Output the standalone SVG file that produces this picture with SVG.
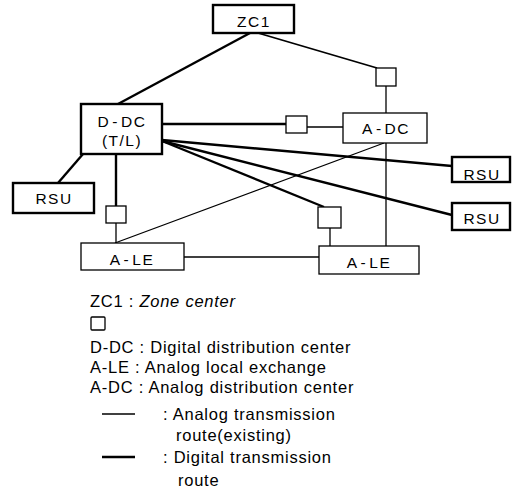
<svg xmlns="http://www.w3.org/2000/svg" width="524" height="491" viewBox="0 0 524 491">
<style>
.thick{fill:#fff;stroke:#000;stroke-width:2.4}
.thin{fill:#fff;stroke:#000;stroke-width:1.3}
.lt{fill:none;stroke:#000;stroke-width:1.3}
.lk{fill:none;stroke:#000;stroke-width:2.4}
text{font-family:"Liberation Sans",Arial,sans-serif;fill:#000}
.nl{font-size:15.5px;text-anchor:middle;letter-spacing:1.5px}
.lg{font-size:16.5px;letter-spacing:0.75px}
</style>
<rect width="524" height="491" fill="#fff"/>
<g id="connectors">
<line class="lk" x1="250" y1="33" x2="118" y2="104"/>
<line class="lt" x1="258" y1="33" x2="377" y2="68" style="stroke-width:1.8"/>
<line class="lt" x1="386" y1="86" x2="386" y2="113"/>
<line class="lk" x1="162" y1="124" x2="286" y2="124"/>
<line class="lt" x1="307" y1="127" x2="343" y2="127"/>
<line class="lk" x1="83" y1="154" x2="58" y2="183"/>
<line class="lk" x1="116" y1="154" x2="116" y2="206"/>
<line class="lt" x1="116" y1="223" x2="116" y2="243"/>
<line class="lk" x1="162" y1="140" x2="452" y2="166"/>
<line class="lk" x1="162" y1="141" x2="452" y2="215"/>
<line class="lk" x1="162" y1="141" x2="324" y2="207"/>
<line class="lt" x1="330" y1="228" x2="330" y2="246"/>
<line class="lt" x1="384" y1="143" x2="115" y2="243"/>
<line class="lt" x1="386" y1="143" x2="386" y2="246"/>
<line class="lt" x1="184" y1="257" x2="319" y2="257"/>
</g>
<g id="zc1"><rect class="thick" x="213" y="5" width="81" height="28"/><text class="nl" x="254" y="27">ZC1</text></g>
<g id="box-top"><rect class="thin" x="376" y="68" width="20" height="18"/></g>
<g id="ddc"><rect class="thick" x="81" y="104" width="81" height="50"/><text class="nl" x="122" y="127">D<tspan dx="2">-</tspan><tspan dx="2">DC</tspan></text><text class="nl" x="122" y="146">(T/L)</text></g>
<g id="box-mid"><rect class="thin" x="286" y="116" width="21" height="17"/></g>
<g id="adc"><rect class="thin" x="343" y="113" width="84" height="30"/><text class="nl" x="386" y="134">A<tspan dx="2">-</tspan><tspan dx="2">DC</tspan></text></g>
<g id="rsu-left"><rect class="thick" x="13" y="183" width="81" height="30"/><text class="nl" x="54" y="204">RSU</text></g>
<g id="rsu-right1"><rect class="thick" x="452" y="157" width="58" height="25"/><text class="nl" x="482" y="180">RSU</text></g>
<g id="rsu-right2"><rect class="thick" x="452" y="203" width="58" height="27"/><text class="nl" x="482" y="224">RSU</text></g>
<g id="box-left"><rect class="thin" x="106" y="206" width="20" height="17"/></g>
<g id="box-right"><rect class="thin" x="318" y="207" width="23" height="21"/></g>
<g id="ale-left"><rect class="thin" x="81" y="243" width="103" height="27"/><text class="nl" x="132" y="265">A<tspan dx="2">-</tspan><tspan dx="2">LE</tspan></text></g>
<g id="ale-right"><rect class="thin" x="319" y="246" width="100" height="28"/><text class="nl" x="369" y="268">A<tspan dx="2">-</tspan><tspan dx="2">LE</tspan></text></g>
<g id="legend">
<text class="lg" x="90" y="307">ZC1 : <tspan font-style="italic">Zone center</tspan></text>
<rect class="thin" x="91" y="317" width="14" height="13" rx="1"/>
<text class="lg" x="90" y="353">D-DC : Digital distribution center</text>
<text class="lg" x="90" y="373">A-LE : Analog local exchange</text>
<text class="lg" x="90" y="393">A-DC : Analog distribution center</text>
<line class="lt" x1="102" y1="414" x2="135" y2="414"/>
<text class="lg" x="163" y="420">: Analog transmission</text>
<text class="lg" x="176" y="441">route(existing)</text>
<line class="lk" x1="102" y1="457" x2="135" y2="457"/>
<text class="lg" x="163" y="463">: Digital transmission</text>
<text class="lg" x="178" y="486">route</text>
</g>
</svg>
